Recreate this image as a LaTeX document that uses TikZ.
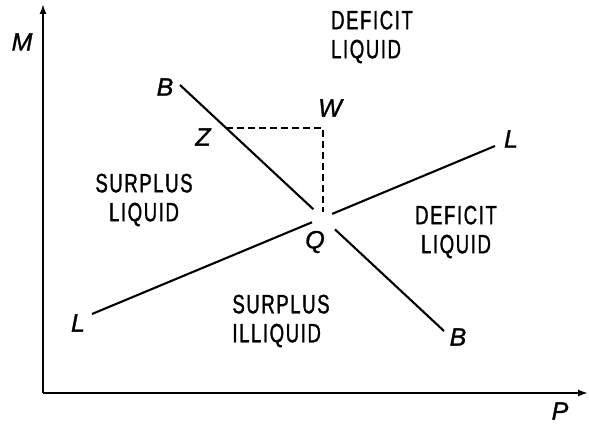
\documentclass[tikz,border=0pt]{standalone}
\usepackage{fontspec}
\usetikzlibrary{arrows.meta,calc}
\newfontfamily\regfont[FakeStretch=0.7,LetterSpace=6,FakeBold=1.2]{Liberation Sans}
\newfontfamily\varfont[FakeBold=1.2]{Liberation Sans}
\tikzset{
  region/.style={font=\regfont\fontsize{26.5}{29}\selectfont, inner sep=0pt},
  varlab/.style={font=\varfont\itshape\fontsize{25}{28}\selectfont, inner sep=0pt},
  curve/.style={line width=2.1pt},
  axis/.style={line width=1.7pt, -{Latex[length=10pt,width=7pt]}},
  guide/.style={line width=1.6pt, dash pattern=on 7pt off 4pt},
}
\begin{document}
\begin{tikzpicture}[x=1pt,y=-1pt]
\useasboundingbox (0,0) rectangle (589,425);
% axes
\coordinate (O) at (43,393);
\coordinate (Mtop) at (43,4);
\coordinate (Pend) at (588,393);
\draw[axis] (O) -- (Mtop);
\draw[axis] (O) -- (Pend);
\node[varlab] (M) at (22,42) {M};
\node[varlab] (P) at (560,411) {P};
% B line
\coordinate (B1) at (180,85);
\coordinate (B2) at (444,331);
\draw[curve] (B1) -- ($(B1)!0.505!(B2)$);
\draw[curve] ($(B1)!0.587!(B2)$) -- (B2);
% L line
\coordinate (L1) at (92,314);
\coordinate (L2) at (495,146);
\draw[curve] (L1) -- ($(L1)!0.546!(L2)$);
\draw[curve] ($(L1)!0.596!(L2)$) -- (L2);
% dashed guides
\coordinate (Zp) at (226,128);
\coordinate (Wp) at (323,128);
\coordinate (Qp) at (323,212);
\draw[guide] (Zp) -- (Wp) -- (Qp);
% point labels
\node[varlab] (Bup) at (165,87) {B};
\node[varlab] (Blo) at (458,337) {B};
\node[varlab] (Lle) at (78,323) {L};
\node[varlab] (Lri) at (511,139) {L};
\node[varlab] (Z) at (203,137) {Z};
\node[varlab] (W) at (330,108) {W};
\node[varlab] (Q) at (315,242) {Q};
% regions
\node[region, align=left] (dl1) at (372,37) {DEFICIT\\LIQUID};
\node[region, align=center] (sl) at (144,200) {SURPLUS\\LIQUID};
\node[region, align=center] (dl2) at (456,232) {DEFICIT\\LIQUID};
\node[region, align=left] (si) at (281,321) {SURPLUS\\ILLIQUID};
\end{tikzpicture}
\end{document}
